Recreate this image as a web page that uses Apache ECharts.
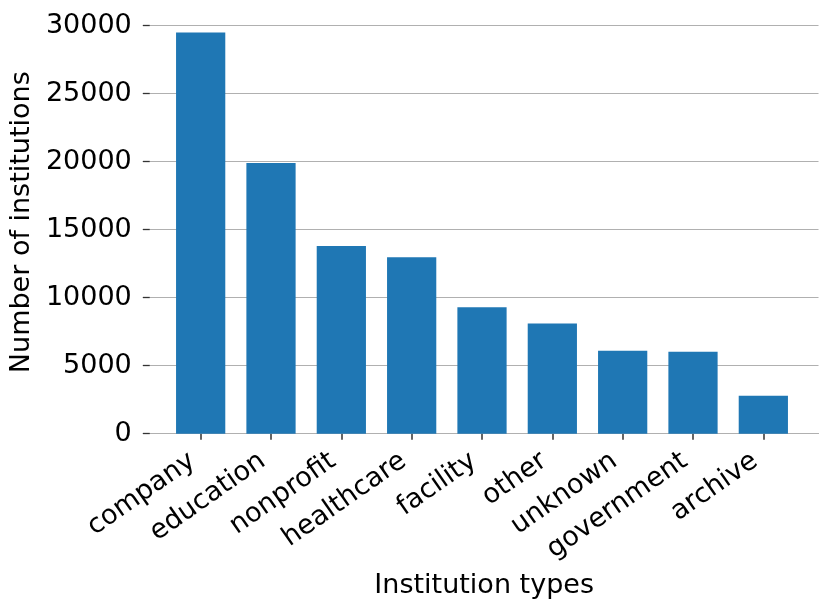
<!DOCTYPE html>
<html>
<head>
<meta charset="utf-8">
<script src="https://cdn.jsdelivr.net/npm/echarts@6/dist/echarts.min.js"></script>
<style>
html,body{margin:0;padding:0;background:#fff;}
#chart{width:831px;height:610px;}
</style>
</head>
<body>
<div id="chart"></div>
<script>
const categories = ['company','education','nonprofit','healthcare','facility','other','unknown','government','archive'];
const counts = [29500, 19900, 13800, 12970, 9290, 8110, 6100, 6030, 2790];
const yTicks = [0, 5000, 10000, 15000, 20000, 25000, 30000];
const xTitle = 'Institution types';
const yTitle = 'Number of institutions';

const FONT = 'DejaVu Sans';
const FS = 27;
const yMin = yTicks[0], yMax = yTicks[yTicks.length - 1], yStep = yTicks[1] - yTicks[0];
const chart = echarts.init(document.getElementById('chart'), null, {renderer: 'canvas'});
const gridTop = 25.7, gridBottom = 176.3;
chart.setOption({
  animation: false,
  backgroundColor: '#fff',
  grid: [
    {left: 165.5, right: 32.5, top: gridTop, bottom: gridBottom, containLabel: false},
    {left: 145.5, right: 12.5, top: gridTop, bottom: gridBottom, containLabel: false}
  ],
  xAxis: [
    {
      type: 'category', gridIndex: 0, data: categories,
      axisLine: {show: false},
      axisTick: {show: true, alignWithLabel: true, length: 6, lineStyle: {color: '#333', width: 1.5}},
      axisLabel: {rotate: 35, fontSize: FS, fontFamily: FONT, color: '#000', margin: 19, interval: 0, padding: [0, 10, 0, 0]},
      splitLine: {show: false}
    },
    {
      type: 'value', gridIndex: 1, min: 0, max: 1,
      axisLine: {show: true, lineStyle: {color: '#b0b0b0', width: 1.2}},
      axisTick: {show: false}, axisLabel: {show: false}, splitLine: {show: false},
      name: xTitle, nameLocation: 'middle', nameGap: 139,
      nameTextStyle: {fontSize: FS, fontFamily: FONT, color: '#000'}
    }
  ],
  yAxis: [
    {
      type: 'value', gridIndex: 0, min: yMin, max: yMax, interval: yStep,
      axisLine: {show: false}, axisTick: {show: false}, axisLabel: {show: false}, splitLine: {show: false}
    },
    {
      type: 'value', gridIndex: 1, min: yMin, max: yMax, interval: yStep,
      axisLine: {show: false},
      axisTick: {show: true, length: 7, lineStyle: {color: '#333', width: 1.3}},
      axisLabel: {fontSize: FS, fontFamily: FONT, color: '#000', margin: 18, formatter: v => String(v)},
      splitLine: {show: true, lineStyle: {color: '#b0b0b0', width: 1.2}},
      name: yTitle, nameLocation: 'middle', nameGap: 106,
      nameTextStyle: {fontSize: FS, fontFamily: FONT, color: '#000', padding: [0, 0, 0, 15]}
    }
  ],
  series: [{
    type: 'bar', xAxisIndex: 0, yAxisIndex: 0,
    data: counts, barWidth: '70%',
    itemStyle: {color: '#1f77b4'}
  }]
});
</script>
</body>
</html>
